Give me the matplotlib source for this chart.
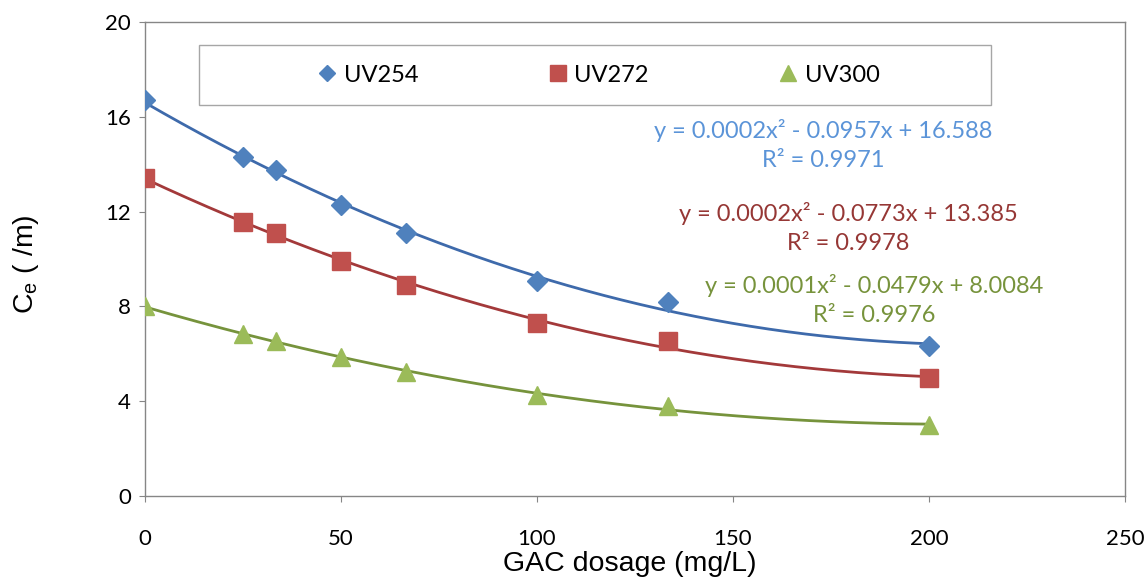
import numpy as np
import matplotlib
matplotlib.use("Agg")
import matplotlib.pyplot as plt
from matplotlib.patches import Rectangle

plt.rcParams['font.family'] = ['Lato', 'DejaVu Sans']

# GAC dosage (mg/L) and Ce (/m)
dosage = [0, 25, 33.3, 50, 66.7, 100, 133.3, 200]
uv254 = [16.69, 14.30, 13.74, 12.28, 11.08, 9.09, 8.20, 6.32]
uv272 = [13.43, 11.58, 11.08, 9.90, 8.90, 7.31, 6.53, 4.96]
uv300 = [8.00, 6.82, 6.55, 5.88, 5.22, 4.25, 3.78, 3.00]

series_names = ['UV254', 'UV272', 'UV300']
equations = ['y = 0.0002x² - 0.0957x + 16.588\nR² = 0.9971',
             'y = 0.0002x² - 0.0773x + 13.385\nR² = 0.9978',
             'y = 0.0001x² - 0.0479x + 8.0084\nR² = 0.9976']
x_ticks = [0, 50, 100, 150, 200, 250]
y_ticks = [0, 4, 8, 12, 16, 20]

marker_colors = ['#4F81BD', '#C0504D', '#9BBB59']
line_colors = ['#3E6AAB', '#A3393A', '#76933C']
eq_colors = ['#5B94D8', '#963735', '#77933C']
markers = ['D', 's', '^']
msizes = [10, 13.5, 13.5]

fig = plt.figure(figsize=(11.47, 5.8), dpi=100)
ax = fig.add_axes([0.1264, 0.1448, 0.8544, 0.8172])

xs = np.linspace(0, 200, 300)
handles = []
for vals, name, mc, lc, m, ms in zip([uv254, uv272, uv300], series_names,
                                     marker_colors, line_colors, markers, msizes):
    coef = np.polyfit(dosage, vals, 2)
    ax.plot(xs, np.polyval(coef, xs), color=lc, lw=2, zorder=2)
    h, = ax.plot(dosage, vals, m, color=mc, ms=ms, mec=mc, label=name, zorder=3)
    handles.append(h)

# trendline equations
eq_pos = [(823, 145), (848, 228), (874, 300)]
for (px, py), txt, c in zip(eq_pos, equations, eq_colors):
    fig.text(px / 1147, 1 - py / 580, txt, color=c, fontsize=17,
             ha='center', va='center', linespacing=1.45)

ax.set_xlim(0, 250)
ax.set_ylim(0, 20)
ax.set_xticks(x_ticks)
ax.set_yticks(y_ticks)
ax.tick_params(axis='both', direction='out', length=4, color='#868686', labelsize=16)
ax.tick_params(axis='x', pad=20)
ax.tick_params(axis='y', pad=6)
for s in ax.spines.values():
    s.set_color('#868686')
    s.set_linewidth(1)

label_font = ['Liberation Sans', 'DejaVu Sans']
ax.set_xlabel('GAC dosage (mg/L)', fontsize=20.5, family=label_font)
ax.xaxis.set_label_coords(0.495, -0.115)
ax.set_ylabel('C$_\\mathregular{e}$ ( /m)', fontsize=20.5, family=label_font)
ax.yaxis.set_label_coords(-0.106, 0.488)

# legend box
ax.add_patch(Rectangle((0.0551, 0.8249), 0.8082, 0.1266, transform=ax.transAxes,
                       fill=True, facecolor='white', edgecolor='#A6A6A6', lw=1, zorder=4))
leg = ax.legend(handles=handles, loc='center', bbox_to_anchor=(0.463, 0.888),
                ncol=3, frameon=False, fontsize=17, handlelength=0.8,
                handletextpad=0.3, columnspacing=5.5, markerscale=0.85)
leg.set_zorder(5)

fig.savefig('out.png', dpi=100)
